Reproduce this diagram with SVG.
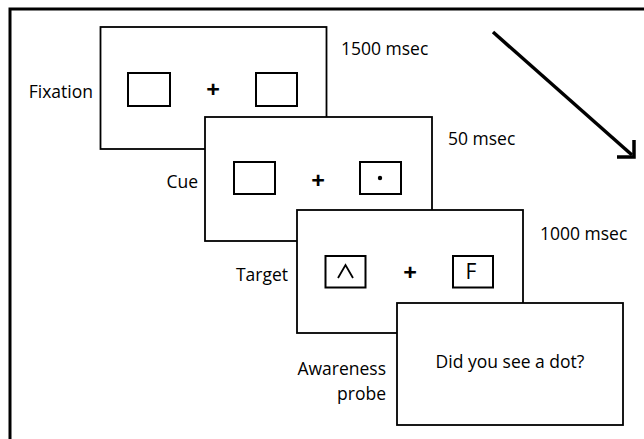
<svg xmlns="http://www.w3.org/2000/svg" width="644" height="439" viewBox="0 0 644 439">
<style>
.frame{fill:#fff;stroke:#000;stroke-width:1.8}
.box{fill:#fff;stroke:#000;stroke-width:2}
.lbl{font-family:"Open Sans","Liberation Sans",sans-serif;font-size:17.5px;fill:#000}
.plus{font-family:"Open Sans","Liberation Sans",sans-serif;font-size:24px;font-weight:700;fill:#000;text-anchor:middle}
.end{text-anchor:end}
</style>
<rect width="644" height="439" fill="#fff"/>
<rect id="outer" x="10" y="9" width="700" height="500" fill="none" stroke="#000" stroke-width="3"/>
<g id="fixation">
<rect class="frame" x="100.5" y="27" width="226" height="122"/>
<rect class="box" x="128" y="73" width="42" height="33"/>
<rect class="box" x="256" y="73" width="41" height="33"/>
<text class="plus" x="213" y="97.5">+</text>
<text class="lbl end" x="93" y="98">Fixation</text>
<text class="lbl" x="341" y="55">1500 msec</text>
</g>
<g id="cue">
<rect class="frame" x="205" y="117" width="227" height="124"/>
<rect class="box" x="234" y="162" width="41" height="32"/>
<rect class="box" x="360" y="162" width="41" height="32"/>
<circle cx="380" cy="178" r="2.2" fill="#000"/>
<text class="plus" x="318" y="188.5">+</text>
<text class="lbl end" x="198" y="188">Cue</text>
<text class="lbl" x="448" y="145">50 msec</text>
</g>
<g id="target">
<rect class="frame" x="297" y="210" width="226" height="123"/>
<rect class="box" x="325.5" y="256" width="40" height="31.5"/>
<polyline points="338,278 345.5,265 353,278" fill="none" stroke="#000" stroke-width="1.8"/>
<rect class="box" x="453" y="256" width="40" height="31.5"/>
<text x="471" y="278.5" font-family="'Open Sans','Liberation Sans',sans-serif" font-size="21" text-anchor="middle" fill="#000">F</text>
<text class="plus" x="410" y="281">+</text>
<text class="lbl end" x="288" y="281">Target</text>
<text class="lbl" x="540" y="240">1000 msec</text>
</g>
<g id="probe">
<rect class="frame" x="397" y="303" width="226" height="122"/>
<text class="lbl" x="510" y="368" text-anchor="middle">Did you see a dot?</text>
<text class="lbl end" x="386" y="375">Awareness</text>
<text class="lbl end" x="386" y="400">probe</text>
</g>
<g id="connectors" fill="none" stroke="#000" stroke-width="3.5">
<line x1="493" y1="32" x2="632" y2="155"/>
<polyline points="617,157 634,157 634,140"/>
</g>
</svg>
